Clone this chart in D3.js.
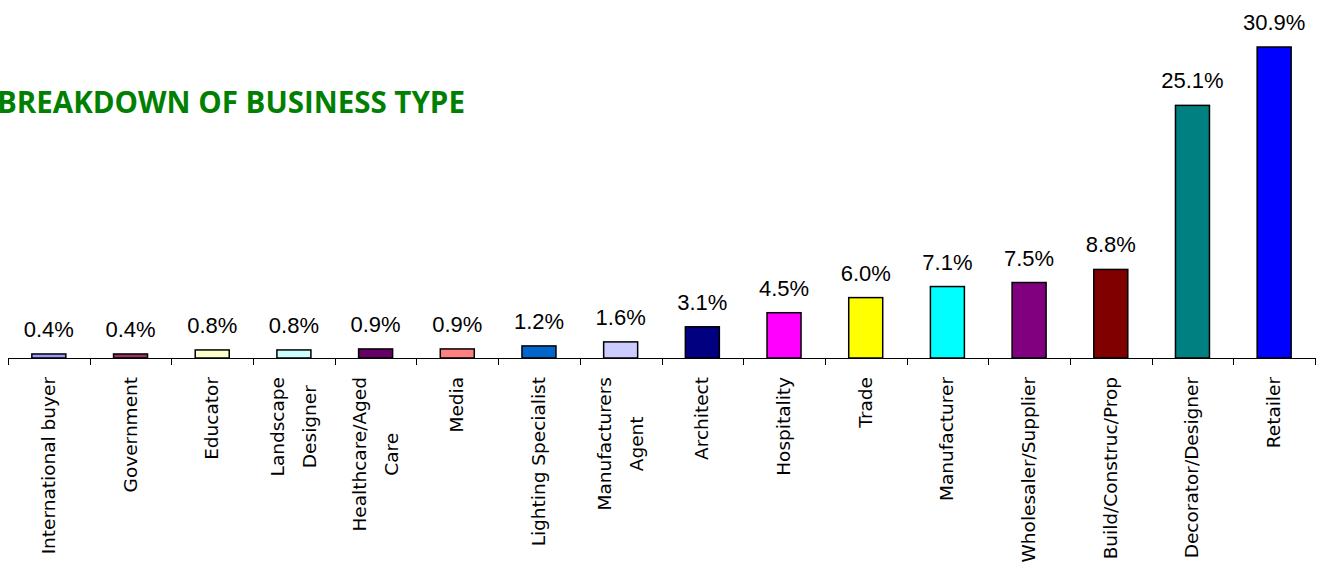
<!DOCTYPE html>
<html>
<head>
<meta charset="utf-8">
<script src="https://cdn.jsdelivr.net/npm/d3@7"></script>
<style>
  body { margin: 0; background: #fff; overflow: hidden; }
</style>
</head>
<body>
<div id="chart"></div>
<script>
// Data
const categories = ["International buyer", "Government", "Educator", "Landscape Designer",
    "Healthcare/Aged Care", "Media", "Lighting Specialist", "Manufacturers Agent", "Architect",
    "Hospitality", "Trade", "Manufacturer", "Wholesaler/Supplier", "Build/Construc/Prop",
    "Decorator/Designer", "Retailer"];
const tickLabels = [["International buyer"], ["Government"], ["Educator"], ["Landscape", "Designer"],
    ["Healthcare/Aged", "Care"], ["Media"], ["Lighting Specialist"], ["Manufacturers", "Agent"], ["Architect"],
    ["Hospitality"], ["Trade"], ["Manufacturer"], ["Wholesaler/Supplier"], ["Build/Construc/Prop"],
    ["Decorator/Designer"], ["Retailer"]];
const values = [0.4, 0.4, 0.8, 0.8, 0.9, 0.9, 1.2, 1.6, 3.1, 4.5, 6.0, 7.1, 7.5, 8.8, 25.1, 30.9];
const colors = ["#9999FF", "#993366", "#FFFFCC", "#CCFFFF", "#660066", "#FF8080", "#0066CC", "#CCCCFF",
    "#000080", "#FF00FF", "#FFFF00", "#00FFFF", "#800080", "#800000", "#008080", "#0000FF"];

const width = 1319, height = 570;
const svg = d3.select("#chart").append("svg")
    .attr("width", width)
    .attr("height", height);

// Scales
const x = d3.scaleBand()
    .domain(categories)
    .range([8, 1315])
    .padding(0);

const y = d3.scaleLinear()
    .domain([0, 30.9])
    .range([358, 47]);

// Title
svg.append("text")
    .attr("x", -3)
    .attr("y", 113)
    .text("BREAKDOWN OF BUSINESS TYPE")
    .style("font-family", "'Open Sans', sans-serif")
    .style("font-weight", "bold")
    .style("font-size", "29.5px")
    .style("fill", "#008000");

// Bars
const barW = 34;
svg.selectAll("rect.bar")
    .data(values)
    .enter()
    .append("rect")
    .attr("class", "bar")
    .attr("x", (d, i) => x(categories[i]) + x.bandwidth() / 2 - barW / 2)
    .attr("y", d => y(d))
    .attr("width", barW)
    .attr("height", d => y(0) - y(d))
    .attr("fill", (d, i) => colors[i])
    .attr("stroke", "#000")
    .attr("stroke-width", 1.5);

// Value labels
svg.selectAll("text.val")
    .data(values)
    .enter()
    .append("text")
    .attr("class", "val")
    .attr("x", (d, i) => x(categories[i]) + x.bandwidth() / 2)
    .attr("y", d => y(d) - 17)
    .attr("text-anchor", "middle")
    .text(d => d.toFixed(1) + "%")
    .style("font-family", "'Liberation Sans', Arial, sans-serif")
    .style("font-size", "22px")
    .style("fill", "#000");

// X axis with ticks at band edges
const xAxis = svg.append("g");
xAxis.append("line")
    .attr("x1", x.range()[0])
    .attr("x2", x.range()[1])
    .attr("y1", y(0) + 0.5)
    .attr("y2", y(0) + 0.5)
    .attr("stroke", "#000");
const edges = categories.map(c => x(c)).concat([x.range()[1]]);
xAxis.selectAll("line.tick")
    .data(edges)
    .enter()
    .append("line")
    .attr("class", "tick")
    .attr("x1", d => Math.round(d) + 0.5)
    .attr("x2", d => Math.round(d) + 0.5)
    .attr("y1", y(0))
    .attr("y2", y(0) + 7)
    .attr("stroke", "#000");

// Category labels (rotated, multi-line centred)
const lineGap = 32;
tickLabels.forEach((lines, i) => {
    const cx = x(categories[i]) + x.bandwidth() / 2;
    const g = svg.append("g")
        .attr("transform", `translate(${cx},377) rotate(-90)`);
    const texts = lines.map((ln, j) => g.append("text")
        .attr("text-anchor", "middle")
        .attr("y", (j - (lines.length - 1) / 2) * lineGap + 6)
        .text(ln)
        .style("font-family", "'DejaVu Sans', sans-serif")
        .style("font-size", "18.5px")
        .style("fill", "#000"));
    const maxW = d3.max(texts, t => t.node().getComputedTextLength());
    texts.forEach(t => t.attr("x", -maxW / 2));
});
</script>
</body>
</html>
